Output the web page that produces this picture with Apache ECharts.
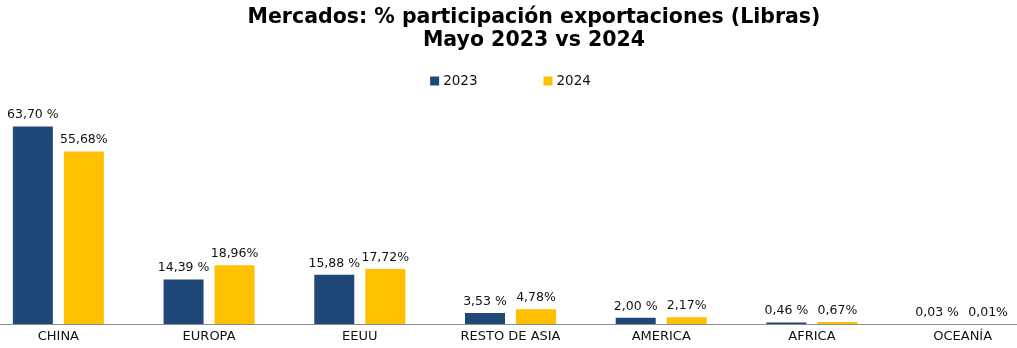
<!DOCTYPE html>
<html>
<head>
<meta charset="utf-8">
<script src="https://cdn.jsdelivr.net/npm/echarts@6/dist/echarts.min.js"></script>
<style>
  html, body { margin: 0; padding: 0; background: #fff; overflow: hidden; }
  #wrap { width: 1017px; height: 348px; overflow: hidden; position: relative; }
  /* the plot runs a little past both window edges */
  #chart { width: 1055px; height: 348px; position: absolute; left: -17px; top: 0; }
</style>
</head>
<body>
<div id="wrap"><div id="chart"></div></div>
<script>
// Export share by market, May 2023 vs May 2024 (%)
const categories = ['CHINA', 'EUROPA', 'EEUU', 'RESTO DE ASIA', 'AMERICA', 'AFRICA', 'OCEANÍA'];
const values2023 = [63.70, 14.39, 15.88, 3.53, 2.00, 0.46, 0.03];
const values2024 = [55.68, 18.96, 17.72, 4.78, 2.17, 0.67, 0.01];
const seriesNames = ['2023', '2024'];

const fmtComma = v => v.toFixed(2).replace('.', ',');

const chart = echarts.init(document.getElementById('chart'), null, { renderer: 'canvas' });

const labelStyle = {
  show: true,
  position: 'top',
  distance: 5,
  color: '#111',
  fontFamily: 'DejaVu Sans',
  fontSize: 12.5
};

chart.setOption({
  animation: false,
  backgroundColor: '#fff',
  title: {
    text: 'Mercados: % participación exportaciones (Libras)\nMayo 2023 vs 2024',
    left: 546,
    top: 1,
    textAlign: 'center',
    textStyle: {
      fontFamily: 'DejaVu Sans',
      fontWeight: 'bold',
      fontSize: 20.5,
      lineHeight: 23,
      color: '#000'
    }
  },
  legend: {
    data: seriesNames,
    top: 69,
    left: 'center',
    itemWidth: 9,
    itemHeight: 9,
    itemGap: 66,
    icon: 'rect',
    textStyle: {
      fontFamily: 'DejaVu Sans',
      fontSize: 13.5,
      color: '#111',
      padding: [0, 0, 0, -1]
    }
  },
  grid: {
    left: 0,
    right: 0,
    top: 107,
    bottom: 24,
    containLabel: false
  },
  xAxis: {
    type: 'category',
    data: categories,
    axisLine: { show: true, lineStyle: { color: '#8c8c8c', width: 1 } },
    axisTick: { show: false },
    axisLabel: {
      color: '#111',
      fontFamily: 'DejaVu Sans',
      fontSize: 13,
      margin: 6,
      interval: 0
    }
  },
  yAxis: {
    type: 'value',
    min: 0,
    max: 70,
    show: false,
    splitLine: { show: false }
  },
  series: [
    {
      name: seriesNames[0],
      type: 'bar',
      data: values2023,
      barWidth: 40,
      barGap: '27.5%',
      itemStyle: { color: '#1F4778' },
      label: Object.assign({}, labelStyle, { formatter: p => fmtComma(p.value) + ' %' })
    },
    {
      name: seriesNames[1],
      type: 'bar',
      data: values2024,
      barWidth: 40,
      itemStyle: { color: '#FFC000' },
      label: Object.assign({}, labelStyle, { formatter: p => fmtComma(p.value) + '%' })
    }
  ]
});
</script>
</body>
</html>
